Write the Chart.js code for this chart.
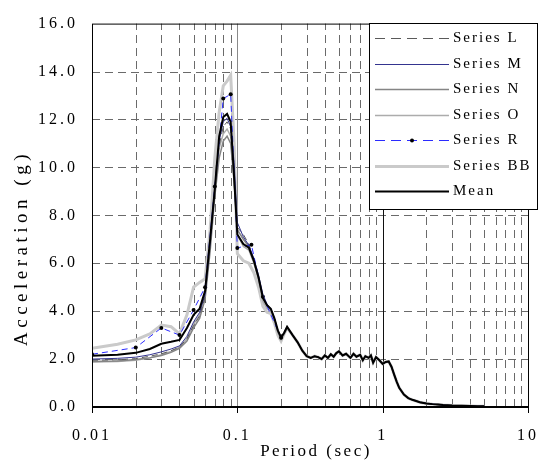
<!DOCTYPE html>
<html lang="en">
<head>
<meta charset="UTF-8">
<title>Response spectra</title>
<script src="https://cdn.jsdelivr.net/npm/chart.js"></script>
<style>
    body{margin:0;padding:0;background:#fff;}
    .wrap{width:558px;height:465px;position:relative;}
</style>
</head>
<body>
<div class="wrap"><canvas id="spectra"></canvas></div>
<script>
// periods (sec) shared by the dense records, up to the first trough
const headPeriods = [0.01, 0.015, 0.02, 0.025, 0.03, 0.035, 0.04, 0.045, 0.05, 0.055,
                     0.06, 0.065, 0.07, 0.075, 0.08, 0.085, 0.09, 0.095, 0.1, 0.11,
                     0.12, 0.13, 0.14, 0.15, 0.16, 0.17, 0.18, 0.19, 0.2, 0.21,
                     0.22, 0.24, 0.26, 0.28];

// long-period part, where all records lie on top of each other
const tailPeriods = [0.3, 0.32, 0.34, 0.36, 0.38, 0.4, 0.42, 0.44, 0.46, 0.48,
                     0.5, 0.53, 0.56, 0.6, 0.63, 0.66, 0.7, 0.73, 0.76, 0.8,
                     0.83, 0.86, 0.9, 0.95, 1.0, 1.05, 1.1, 1.15, 1.2, 1.25,
                     1.3, 1.4, 1.5, 1.6, 1.7, 1.8, 2.0, 2.2, 2.4, 2.6,
                     2.8, 3.0, 3.5, 4.0, 4.5, 5.0];
const tailValues = [2.12, 2.05, 2.12, 2.08, 2.00, 2.15, 2.05, 2.20, 2.10, 2.25,
                    2.32, 2.15, 2.22, 2.05, 2.22, 2.10, 2.18, 1.95, 2.12, 2.05,
                    2.15, 1.85, 2.08, 1.95, 1.80, 1.88, 1.90, 1.68, 1.35, 1.05,
                    0.80, 0.52, 0.37, 0.30, 0.25, 0.20, 0.15, 0.12, 0.10, 0.08,
                    0.07, 0.06, 0.05, 0.04, 0.03, 0.03];

const seriesL  = [1.95, 1.97, 2.02, 2.12, 2.22, 2.35, 2.50, 2.85, 3.40, 3.80,
                  4.60, 6.70, 9.00, 10.90, 11.70, 11.90, 11.60, 9.80, 7.50, 7.20,
                  6.80, 6.10, 5.40, 4.60, 4.25, 4.10, 3.70, 3.20, 2.90, 3.10,
                  3.35, 3.00, 2.70, 2.35];
const seriesM  = [2.00, 2.03, 2.08, 2.18, 2.30, 2.42, 2.55, 2.95, 3.55, 3.95,
                  4.70, 6.90, 9.20, 11.10, 11.90, 12.05, 11.70, 10.20, 7.70, 7.10,
                  6.75, 6.20, 5.50, 4.70, 4.30, 4.10, 3.70, 3.20, 2.90, 3.10,
                  3.35, 3.00, 2.70, 2.35];
const seriesN  = [1.90, 1.92, 1.98, 2.05, 2.15, 2.28, 2.45, 2.75, 3.30, 3.70,
                  4.50, 6.50, 8.80, 10.40, 11.10, 11.30, 11.00, 9.40, 7.40, 7.00,
                  6.70, 6.05, 5.35, 4.55, 4.20, 4.05, 3.65, 3.15, 2.85, 3.05,
                  3.30, 3.00, 2.70, 2.35];
const seriesO  = [1.88, 1.90, 1.95, 2.05, 2.18, 2.32, 2.50, 2.85, 3.45, 3.85,
                  4.70, 6.80, 9.20, 10.80, 11.40, 11.60, 11.30, 9.50, 7.20, 6.70,
                  6.55, 6.00, 5.30, 4.40, 4.10, 4.00, 3.60, 3.10, 2.80, 3.05,
                  3.30, 3.00, 2.70, 2.35];
const seriesBB = [2.45, 2.62, 2.80, 3.05, 3.42, 3.35, 3.05, 3.85, 5.00, 5.20,
                  5.35, 7.40, 10.40, 12.30, 13.40, 13.60, 13.85, 11.00, 6.40, 6.10,
                  6.00, 5.60, 5.00, 4.20, 3.95, 3.90, 3.50, 3.00, 2.75, 3.05,
                  3.30, 3.00, 2.70, 2.35];
const seriesMean = [2.14, 2.18, 2.26, 2.42, 2.64, 2.72, 2.80, 3.30, 3.85, 4.10,
                    4.85, 7.00, 9.10, 11.30, 12.10, 12.23, 11.90, 9.60, 7.20, 6.80,
                    6.65, 6.10, 5.40, 4.55, 4.25, 4.10, 3.70, 3.20, 2.90, 3.10,
                    3.35, 3.00, 2.70, 2.35];

// Series R is only given at a few periods (drawn with markers)
const rPeriods = [0.01, 0.02, 0.03, 0.04, 0.05, 0.06, 0.07, 0.08, 0.09, 0.1, 0.125, 0.15, 0.2];
const seriesR  = [2.20, 2.48, 3.30, 3.00, 4.05, 5.00, 9.20, 12.87, 13.05, 6.64, 6.77, 4.60, 2.89];

// axis ticks
const decadeTicks = [0.01, 0.1, 1, 10];
const minorGrid = [0.02, 0.03, 0.04, 0.05, 0.06, 0.07, 0.08, 0.09,
                   0.2, 0.3, 0.4, 0.5, 0.6, 0.7, 0.8, 0.9,
                   2, 3, 4, 5, 6, 7, 8, 9];
const yGrid = [2, 4, 6, 8, 10, 12, 14];

const serif = "'Liberation Serif','Times New Roman',serif";

const pts = (ps, vs) => ps.map((p, i) => ({x: p, y: vs[i]}));
const allPeriods = headPeriods.concat(tailPeriods);
const full = head => pts(allPeriods, head.concat(tailValues));

const datasets = [
    {label: 'Series L', data: full(seriesL), borderColor: '#5a5a5a', borderWidth: 1, borderDash: [6, 4], order: 3},
    {label: 'Series M', data: full(seriesM), borderColor: '#34348f', borderWidth: 1, order: 1},
    {label: 'Series N', data: full(seriesN), borderColor: '#858585', borderWidth: 1.5, order: 4},
    {label: 'Series O', data: full(seriesO), borderColor: '#acacac', borderWidth: 1.5, order: 5},
    {label: 'Series R', data: pts(rPeriods, seriesR), borderColor: '#2b2bff', borderWidth: 1, borderDash: [6, 4],
     pointRadius: 2, pointBackgroundColor: '#000', pointBorderWidth: 0, order: 2},
    {label: 'Series BB', data: full(seriesBB), borderColor: '#cacaca', borderWidth: 3, order: 6},
    {label: 'Mean', data: full(seriesMean), borderColor: '#000', borderWidth: 2, order: 0}
];

const legendOrder = ['Series L', 'Series M', 'Series N', 'Series O', 'Series R', 'Series BB', 'Mean'];

// dashed log grid, frame, legend box and axis titles
const frame = {
    id: 'frame',
    beforeUpdate(chart) { chart.ctx.letterSpacing = '3px'; },
    beforeDraw(chart) { chart.ctx.letterSpacing = '3px'; },
    beforeDatasetsDraw(chart) {
        const {ctx, chartArea: a, scales: {x, y}} = chart;
        ctx.save();
        ctx.lineWidth = 1;
        ctx.strokeStyle = '#6a6a6a';
        ctx.setLineDash([8, 5]);
        yGrid.forEach(v => {
            const py = Math.round(y.getPixelForValue(v)) + 0.5;
            ctx.beginPath(); ctx.moveTo(a.left, py); ctx.lineTo(a.right, py); ctx.stroke();
        });
        minorGrid.forEach(v => {
            const px = Math.round(x.getPixelForValue(v)) + 0.5;
            ctx.beginPath(); ctx.moveTo(px, a.bottom); ctx.lineTo(px, a.top); ctx.stroke();
        });
        ctx.setLineDash([]);
        [[0.1, '#8a8a8a'], [1, '#111']].forEach(([v, c]) => {
            const px = Math.round(x.getPixelForValue(v)) + 0.5;
            ctx.strokeStyle = c;
            ctx.beginPath(); ctx.moveTo(px, a.bottom); ctx.lineTo(px, a.top); ctx.stroke();
        });
        ctx.restore();
    },
    afterDatasetsDraw(chart) {
        const {ctx, chartArea: a, scales: {x}} = chart;
        ctx.save();
        // plot frame
        ctx.strokeStyle = '#000';
        ctx.lineWidth = 1;
        ctx.strokeRect(a.left + 0.5, a.top + 0.5, a.right - a.left, a.bottom - a.top);
        ctx.lineWidth = 2;
        ctx.beginPath(); ctx.moveTo(a.left, a.bottom); ctx.lineTo(a.right + 1, a.bottom); ctx.stroke();
        ctx.lineWidth = 1;
        decadeTicks.forEach(v => {
            const px = Math.round(x.getPixelForValue(v)) + 0.5;
            ctx.beginPath(); ctx.moveTo(px, a.bottom); ctx.lineTo(px, a.bottom + 6); ctx.stroke();
        });

        // legend
        const bx = 369, by = 23, bw = 168, bh = 186;
        ctx.fillStyle = '#fff';
        ctx.fillRect(bx, by, bw, bh);
        ctx.strokeStyle = '#000';
        ctx.strokeRect(bx + 0.5, by + 0.5, bw, bh);
        ctx.font = '15px ' + serif;
        ctx.letterSpacing = '2px';
        ctx.textBaseline = 'middle';
        ctx.textAlign = 'left';
        legendOrder.forEach((label, i) => {
            const ds = datasets.find(d => d.label === label);
            const cy = Math.round(by + 15 + i * 25.5) + 0.5;
            ctx.strokeStyle = ds.borderColor;
            ctx.lineWidth = ds.borderWidth;
            ctx.setLineDash(ds.borderDash ? [10, 6] : []);
            ctx.beginPath(); ctx.moveTo(bx + 6, cy); ctx.lineTo(bx + 80, cy); ctx.stroke();
            ctx.setLineDash([]);
            if (ds.pointRadius) {
                ctx.fillStyle = '#000';
                ctx.beginPath(); ctx.arc(bx + 43, cy, 2, 0, Math.PI * 2); ctx.fill();
            }
            ctx.fillStyle = '#000';
            ctx.fillText(label, bx + 84, cy);
        });
        ctx.restore();
    },
    afterDraw(chart) {
        const {ctx} = chart;
        ctx.save();
        ctx.fillStyle = '#000';
        ctx.textAlign = 'center';
        ctx.textBaseline = 'middle';
        ctx.font = '17px ' + serif;
        ctx.letterSpacing = '2.5px';
        ctx.fillText('Period (sec)', 316, 452);
        ctx.translate(22, 248);
        ctx.rotate(-Math.PI / 2);
        ctx.font = '19px ' + serif;
        ctx.letterSpacing = '4.5px';
        ctx.fillText('Acceleration (g)', 0, 0);
        ctx.restore();
    }
};

new Chart(document.getElementById('spectra'), {
    type: 'scatter',
    data: {
        datasets: datasets.map(d => Object.assign({
            showLine: true,
            pointRadius: 0,
            pointHoverRadius: 0,
            tension: 0,
            fill: false
        }, d))
    },
    options: {
        responsive: true,
        maintainAspectRatio: false,
        animation: false,
        layout: {padding: {top: 16, right: 17, bottom: 0, left: 0}},
        plugins: {legend: {display: false}, tooltip: {enabled: false}},
        scales: {
            x: {
                type: 'logarithmic',
                min: 0.01,
                max: 10,
                grid: {display: false, drawTicks: false},
                border: {display: false},
                afterBuildTicks: s => { s.ticks = decadeTicks.map(v => ({value: v})); },
                afterFit: s => { s.height = 58; },
                ticks: {
                    autoSkip: false,
                    maxRotation: 0,
                    padding: 19,
                    color: '#000',
                    font: {family: serif, size: 16},
                    callback: v => String(v)
                }
            },
            y: {
                min: 0,
                max: 16,
                grid: {display: false, drawTicks: false},
                border: {display: false},
                afterFit: s => { s.width = 92; },
                ticks: {
                    stepSize: 2,
                    padding: 14,
                    color: '#000',
                    font: {family: serif, size: 16},
                    callback: v => v.toFixed(1)
                }
            }
        }
    },
    plugins: [frame]
});
</script>
</body>
</html>
